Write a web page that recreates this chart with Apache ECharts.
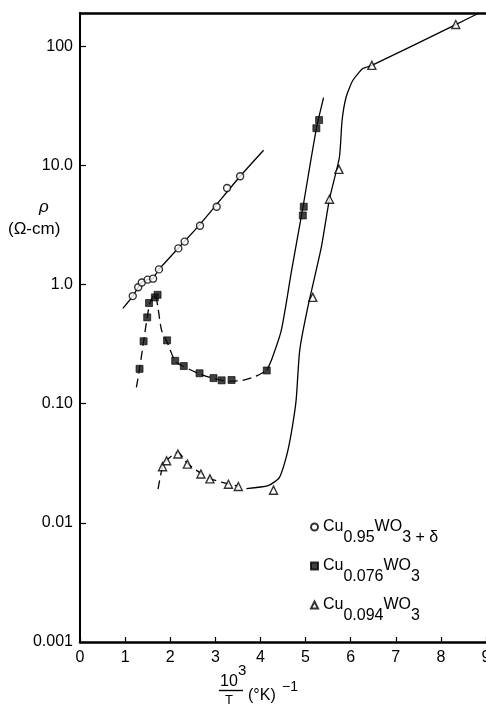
<!DOCTYPE html>
<html>
<head>
<meta charset="utf-8">
<script src="https://cdn.jsdelivr.net/npm/echarts@6/dist/echarts.min.js"></script>
<style>
  html, body { margin: 0; padding: 0; background: #ffffff; }
  #resistivity { width: 486px; height: 708px; }
</style>
</head>
<body>
<div id="resistivity"></div>
<script>
// y tick labels (log axis, one per decade)
const yTickValues = [0.001, 0.01, 0.1, 1, 10, 100];
const yTickLabels = ["0.001", "0.01", "0.10", "1.0", "10.0", "100"];

// Cu0.95WO3+δ  (open circles)
const circleX = [1.17, 1.29, 1.37, 1.50, 1.62, 1.75, 2.18, 2.32, 2.66, 3.03, 3.26, 3.55];
const circleY = [0.80, 0.95, 1.04, 1.10, 1.12, 1.34, 2.01, 2.29, 3.11, 4.5, 6.45, 8.1];
const circleFit = [[0.95, 0.63], [1.17, 0.80], [1.29, 0.95], [1.37, 1.04], [1.50, 1.10], [1.62, 1.13], [1.75, 1.34], [2.66, 3.2], [3.55, 8.1], [4.07, 13.4]];

// Cu0.076WO3  (filled squares)
const squareX = [1.32, 1.41, 1.49, 1.53, 1.66, 1.72, 1.93, 2.11, 2.30, 2.65, 2.96, 3.14, 3.36, 4.14, 4.94, 4.96, 5.24, 5.30];
const squareY = [0.196, 0.334, 0.53, 0.70, 0.78, 0.82, 0.34, 0.229, 0.207, 0.18, 0.164, 0.157, 0.158, 0.19, 3.8, 4.5, 20.5, 24];
const squareFitDash = [[1.25, 0.137], [1.32, 0.196], [1.41, 0.334], [1.49, 0.53], [1.55, 0.70], [1.66, 0.83], [1.72, 0.67], [1.81, 0.41], [1.93, 0.33], [2.11, 0.228], [2.30, 0.205], [2.65, 0.178], [2.96, 0.163], [3.30, 0.154], [3.60, 0.157], [3.90, 0.170], [4.14, 0.19]];
const squareFitSolid = [[4.14, 0.19], [4.24, 0.23], [4.46, 0.41], [4.69, 1.31], [4.93, 4.2], [5.24, 20.3], [5.40, 37]];

// Cu0.094WO3  (open triangles)
const triX = [1.83, 1.92, 2.17, 2.38, 2.68, 2.88, 3.29, 3.51, 4.29, 5.16, 5.53, 5.74, 6.47, 8.33];
const triY = [0.0296, 0.0332, 0.0378, 0.0311, 0.0257, 0.0234, 0.0211, 0.0202, 0.0188, 0.78, 5.2, 9.25, 69, 152];
const triFitDash = [[1.73, 0.0192], [1.83, 0.0296], [1.92, 0.0335], [2.17, 0.039], [2.38, 0.0315], [2.68, 0.026], [2.88, 0.0235], [3.29, 0.0212], [3.51, 0.0203]];
const triFitSolid = [[3.69, 0.0194], [4.17, 0.0205], [4.42, 0.024], [4.57, 0.0354], [4.68, 0.0556], [4.79, 0.106], [4.87, 0.279], [5.05, 0.645], [5.35, 2.06], [5.53, 5.2], [5.75, 11.7], [5.81, 23.9], [5.90, 37.5], [6.05, 51.8], [6.27, 64.9], [6.47, 69], [8.33, 152], [8.85, 190]];

const seriesNames = ["Cu0.95WO3+δ", "Cu0.076WO3", "Cu0.094WO3"];
const legendRich = {
  "Cu0.95WO3+δ": "{m|Cu}{s|0.95}{m|WO}{s|3 + δ}",
  "Cu0.076WO3": "{m|Cu}{s|0.076}{m|WO}{s|3}",
  "Cu0.094WO3": "{m|Cu}{s|0.094}{m|WO}{s|3}"
};

const font = "Liberation Sans";
const myChart = echarts.init(document.getElementById("resistivity"));

function zip(xs, ys) {
  return xs.map((x, i) => [x, ys[i]]);
}

function fitLine(data, dashed, smooth) {
  return {
    type: "line",
    data: data,
    smooth: smooth,
    showSymbol: false,
    silent: true,
    z: 2,
    lineStyle: { color: "#000", width: 1.3, type: dashed ? [9, 5] : "solid" }
  };
}

const option = {
  animation: false,
  backgroundColor: "#ffffff",
  grid: { left: 80, right: 0, top: 13, bottom: 66, outerBoundsMode: "none" },
  xAxis: [
    {
      type: "value",
      min: 0,
      max: 9,
      interval: 1,
      axisLine: { lineStyle: { color: "#000", width: 2.5 } },
      axisTick: { inside: true, length: 5, lineStyle: { color: "#000", width: 1.2 } },
      axisLabel: { color: "#000", fontFamily: font, fontSize: 16, margin: 8, showMaxLabel: true },
      splitLine: { show: false }
    },
    {
      type: "value",
      position: "top",
      min: 0,
      max: 9,
      axisLine: { show: true, onZero: false, lineStyle: { color: "#000", width: 2.5 } },
      axisTick: { show: false },
      axisLabel: { show: false },
      splitLine: { show: false }
    }
  ],
  yAxis: {
    type: "log",
    logBase: 10,
    min: 0.001,
    max: 190,
    axisLine: { show: true, lineStyle: { color: "#000", width: 2 } },
    axisTick: { inside: true, length: 6, lineStyle: { color: "#000", width: 1.2 } },
    axisLabel: {
      color: "#000",
      fontFamily: font,
      fontSize: 16,
      margin: 7,
      formatter: function (v) {
        for (let i = 0; i < yTickValues.length; i++) {
          if (Math.abs(Math.log10(v) - Math.log10(yTickValues[i])) < 1e-6) return yTickLabels[i];
        }
        return "";
      }
    },
    splitLine: { show: false }
  },
  legend: {
    orient: "vertical",
    left: 305,
    top: 514,
    itemGap: 12,
    itemWidth: 7,
    itemHeight: 7,
    itemStyle: { borderColor: "#000" },
    data: [
      { name: seriesNames[0], icon: "circle" },
      { name: seriesNames[1], icon: "rect" },
      { name: seriesNames[2], icon: "triangle" }
    ],
    formatter: function (name) {
      return legendRich[name];
    },
    textStyle: {
      color: "#000",
      rich: {
        m: { fontFamily: font, fontSize: 16, lineHeight: 16, verticalAlign: "top" },
        s: { fontFamily: font, fontSize: 16, lineHeight: 16, verticalAlign: "top", padding: [11, 0, 0, 0] }
      }
    }
  },
  graphic: [
    { type: "text", left: 39, top: 199, style: { text: "ρ", font: "italic 17px " + font, fill: "#000" } },
    { type: "text", left: 8, top: 221, style: { text: "(Ω-cm)", font: "17px " + font, fill: "#000" } },
    { type: "text", left: 220, top: 674, style: { text: "10", font: "16px " + font, fill: "#000" } },
    { type: "text", left: 238, top: 663, style: { text: "3", font: "15px " + font, fill: "#000" } },
    { type: "line", shape: { x1: 219, y1: 690.5, x2: 243, y2: 690.5 }, style: { stroke: "#000", lineWidth: 1.4 } },
    { type: "text", left: 225, top: 694, style: { text: "T", font: "13px " + font, fill: "#000" } },
    { type: "text", left: 248, top: 688, style: { text: "(°K)", font: "16px " + font, fill: "#000" } },
    { type: "text", left: 282, top: 680, style: { text: "−1", font: "14px " + font, fill: "#000" } }
  ],
  series: [
    fitLine(circleFit, false, 0.2),
    fitLine(squareFitDash, true, 0.25),
    fitLine(squareFitSolid, false, 0.25),
    fitLine(triFitDash, true, 0.25),
    fitLine(triFitSolid, false, 0.2),
    {
      name: seriesNames[0],
      type: "scatter",
      data: zip(circleX, circleY),
      symbol: "circle",
      symbolSize: 7,
      z: 5,
      itemStyle: { color: "#fff", borderColor: "#000", borderWidth: 1.4 }
    },
    {
      name: seriesNames[1],
      type: "scatter",
      data: zip(squareX, squareY),
      symbol: "rect",
      symbolSize: 7,
      z: 5,
      itemStyle: { color: "#111", borderColor: "#000", borderWidth: 0.8 }
    },
    {
      name: seriesNames[2],
      type: "scatter",
      data: zip(triX, triY),
      symbol: "triangle",
      symbolSize: 8,
      z: 5,
      itemStyle: { color: "#fff", borderColor: "#000", borderWidth: 1.4 }
    }
  ]
};

myChart.setOption(option);
window.addEventListener("resize", function () {
  myChart.resize();
});
</script>
</body>
</html>
